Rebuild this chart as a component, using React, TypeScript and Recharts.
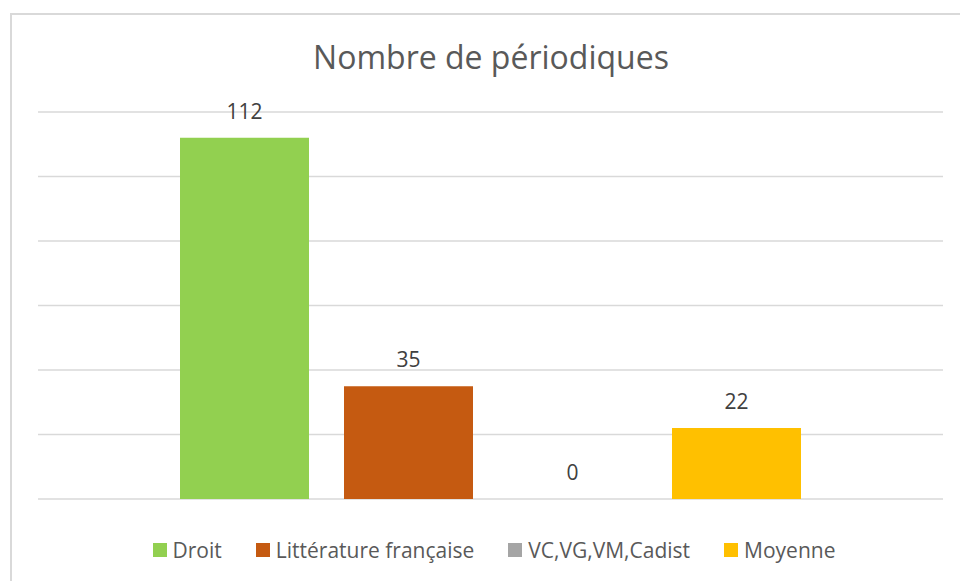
import React from "react";
import { BarChart, Bar, XAxis, YAxis, CartesianGrid, LabelList } from "recharts";

const seriesNames = ["Droit", "Littérature française", "VC,VG,VM,Cadist", "Moyenne"];
const seriesValues = [112, 35, 0, 22];
const seriesColors = ["#92D050", "#C55A11", "#A5A5A5", "#FFC000"];
const yTicks = [0, 20, 40, 60, 80, 100, 120];

const FONT = "'Open Sans', sans-serif";

const row: Record<string, string | number> = { name: "" };
seriesNames.forEach((n, i) => {
  row[`s${i}`] = seriesValues[i];
});
const data = [row];

function ValueLabel(props: any) {
  const { x, y, width, height, value } = props;
  // zero bars get a 1px min size so the label still shows; anchor on the baseline
  const top = value === 0 ? y + height : y;
  return (
    <text x={x + width / 2} y={top - 19} textAnchor="middle" fontFamily={FONT} fontSize={21} fill="#404040">
      {value}
    </text>
  );
}

function LegendBox() {
  return (
    <div style={{ position: "absolute", left: 0, width: 988, top: 536, display: "flex", justifyContent: "center", gap: 34, fontFamily: FONT, fontSize: 21, color: "#595959" }}>
      {seriesNames.map((n, i) => (
        <div key={n} style={{ display: "flex", alignItems: "center" }}>
          <span style={{ width: 14, height: 14, background: seriesColors[i], marginRight: 6, display: "inline-block" }} />
          <span>{n}</span>
        </div>
      ))}
    </div>
  );
}

export default function App() {
  return (
    <div style={{ position: "fixed", left: 0, top: 0, width: 960, height: 581, background: "#fff", overflow: "hidden" }}>
      <div style={{ position: "absolute", left: 10, top: 13, width: 1000, height: 700, borderLeft: "2px solid #d9d9d9", borderTop: "2px solid #d9d9d9" }} />
      <div style={{ position: "absolute", left: 0, width: 982, top: 35, textAlign: "center", fontFamily: FONT, fontSize: 32, color: "#595959" }}>
        Nombre de périodiques
      </div>
      <div style={{ position: "absolute", left: 0, top: 0 }}>
        <BarChart width={960} height={581} data={data} margin={{ top: 112, right: 17, bottom: 82, left: 38 }} barGap={35}>
          <CartesianGrid horizontal vertical={false} stroke="#d9d9d9" strokeWidth={1.5} />
          <XAxis dataKey="name" hide />
          <YAxis hide domain={[0, 120]} ticks={yTicks} />
          {seriesNames.map((n, i) => (
            <Bar
              key={n}
              dataKey={`s${i}`}
              name={n}
              fill={seriesColors[i]}
              fillOpacity={seriesValues[i] === 0 ? 0 : 1}
              barSize={129}
              minPointSize={1}
              isAnimationActive={false}
            >
              <LabelList dataKey={`s${i}`} content={ValueLabel} />
            </Bar>
          ))}
        </BarChart>
      </div>
      <LegendBox />
    </div>
  );
}
